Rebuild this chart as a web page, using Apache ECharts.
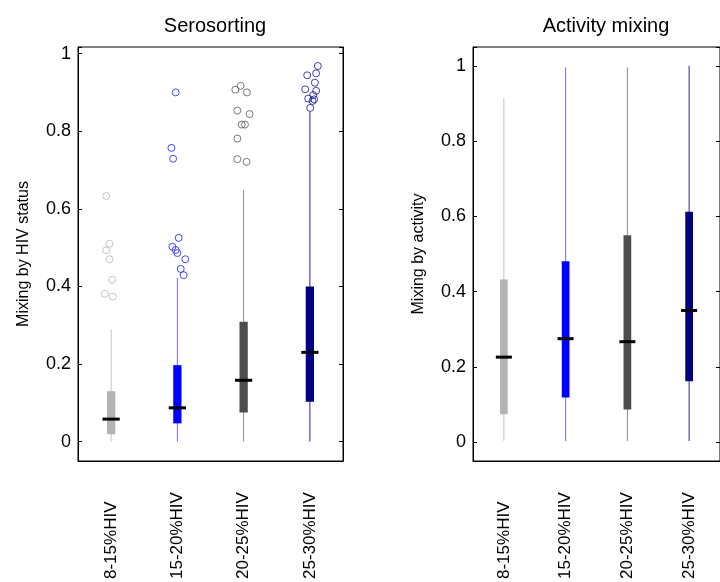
<!DOCTYPE html>
<html>
<head>
<meta charset="utf-8">
<script src="https://cdn.jsdelivr.net/npm/echarts@6/dist/echarts.min.js"></script>
<style>
  html, body { margin: 0; padding: 0; background: #fff; }
  #chart { width: 720px; height: 582px; }
</style>
</head>
<body>
<div id="chart"></div>
<script>
// Prevalence groups shown on both panels
const categories = ['8-15%HIV', '15-20%HIV', '20-25%HIV', '25-30%HIV'];

// Box statistics per group: [whisker low, Q1, median, Q3, whisker high]
const seroStats = [
  [0, 0.019, 0.058, 0.130, 0.289],
  [0, 0.047, 0.087, 0.197, 0.422],
  [0, 0.075, 0.158, 0.309, 0.649],
  [0, 0.103, 0.230, 0.400, 0.850]
];
const activityStats = [
  [0.003, 0.074, 0.226, 0.432, 0.914],
  [0.003, 0.119, 0.275, 0.481, 0.996],
  [0.003, 0.087, 0.267, 0.550, 0.996],
  [0.003, 0.162, 0.350, 0.612, 1.000]
];

// Serosorting outliers per group: [horizontal jitter (category units), value]
const seroOutliers1 = [[-0.075, 0.633], [-0.025, 0.510], [-0.075, 0.493], [-0.025, 0.470],
  [0.015, 0.417], [-0.095, 0.381], [0.025, 0.374]];
const seroOutliers2 = [[-0.025, 0.900], [-0.09, 0.757], [-0.065, 0.729], [0.02, 0.525],
  [-0.075, 0.502], [-0.025, 0.494], [0, 0.486], [0.12, 0.470], [0.05, 0.445], [0.095, 0.429]];
const seroOutliers3 = [[-0.125, 0.907], [-0.045, 0.917], [0.05, 0.900], [-0.095, 0.853],
  [0.09, 0.844], [-0.03, 0.817], [0.02, 0.817], [-0.095, 0.781], [-0.095, 0.728], [0.045, 0.721]];
const seroOutliers4 = [[0.12, 0.968], [-0.04, 0.944], [0.095, 0.949], [0.075, 0.925],
  [-0.07, 0.908], [0.095, 0.904], [0.05, 0.893], [-0.025, 0.884], [0.065, 0.882],
  [0.04, 0.878], [0.005, 0.860]];
const seroOutliers = [seroOutliers1, seroOutliers2, seroOutliers3, seroOutliers4];

// Colours per group
const boxColors = ['#b3b3b3', '#0000ff', '#4d4d4d', '#000080'];
const whiskerColors = ['#c4c4c4', '#6b6bff', '#8a8a8a', '#2b2b95'];
const outlierColors = ['#b8b8b8', '#1a1aff', '#5a5a5a', '#10109a'];

const FONT = '"Liberation Sans", Arial, Helvetica, sans-serif';

function boxRender(params, api) {
  const i = params.dataIndex;
  const x = api.value(0);
  const lo = api.coord([x, api.value(1)]);
  const q1 = api.coord([x, api.value(2)]);
  const med = api.coord([x, api.value(3)]);
  const q3 = api.coord([x, api.value(4)]);
  const hi = api.coord([x, api.value(5)]);
  const band = api.size([1, 0])[0];
  const bw = band * 0.125;
  const mw = band * 0.26;
  return {
    type: 'group',
    children: [
      { type: 'line', shape: { x1: lo[0], y1: lo[1], x2: hi[0], y2: hi[1] },
        style: { stroke: whiskerColors[i], lineWidth: 1 } },
      { type: 'rect', shape: { x: q3[0] - bw / 2, y: q3[1], width: bw, height: q1[1] - q3[1] },
        style: { fill: boxColors[i] } },
      { type: 'line', shape: { x1: med[0] - mw / 2, y1: med[1], x2: med[0] + mw / 2, y2: med[1] },
        style: { stroke: '#000', lineWidth: 3 } }
    ]
  };
}

function tickLabel(v) {
  const k = v / 0.2;
  if (Math.abs(k - Math.round(k)) > 1e-6) return '';
  return String(+v.toFixed(1));
}

function catAxis(gridIndex) {
  return {
    gridIndex, type: 'category', data: categories, boundaryGap: true,
    axisLine: { onZero: false, lineStyle: { color: '#000', width: 1 } },
    axisTick: { show: false },
    axisLabel: {
      rotate: 90, align: 'left', verticalAlign: 'middle', margin: 118,
      fontSize: 17, color: '#000', fontFamily: FONT, interval: 0
    }
  };
}
function jitterAxis(gridIndex) {
  return { gridIndex, type: 'value', min: -0.5, max: 3.5, show: false,
    axisLine: { show: false, onZero: false } };
}
function valAxis(gridIndex, max, name) {
  return {
    gridIndex, type: 'value', min: -0.05, max, position: 'left',
    name, nameLocation: 'middle', nameGap: 46,
    nameTextStyle: { fontSize: 16, color: '#000', fontFamily: FONT },
    axisLine: { show: true, onZero: false, lineStyle: { color: '#000', width: 1 } },
    axisTick: { show: true, inside: true, length: 4, lineStyle: { color: '#000' } },
    axisLabel: { formatter: tickLabel, fontSize: 18, color: '#000', fontFamily: FONT, margin: 7 },
    splitLine: { show: false }
  };
}
function mirrorAxis(gridIndex, max) {
  return {
    gridIndex, type: 'value', min: -0.05, max, position: 'right',
    axisLine: { show: true, onZero: false, lineStyle: { color: '#000', width: 1 } },
    axisTick: { show: true, inside: true, length: 4, lineStyle: { color: '#000' } },
    axisLabel: { show: false },
    splitLine: { show: false }
  };
}

const outlierData = [];
seroOutliers.forEach((pts, i) => {
  pts.forEach(p => outlierData.push({
    value: [i + p[0], p[1]],
    itemStyle: { borderColor: outlierColors[i] }
  }));
});

const chart = echarts.init(document.getElementById('chart'), null, { renderer: 'canvas' });
chart.setOption({
  animation: false,
  backgroundColor: '#fff',
  title: [
    { text: 'Serosorting', left: 210, top: 11, textAlign: 'center',
      textStyle: { fontSize: 20, fontWeight: 'normal', color: '#000', fontFamily: FONT } },
    { text: 'Activity mixing', left: 601, top: 11, textAlign: 'center',
      textStyle: { fontSize: 20, fontWeight: 'normal', color: '#000', fontFamily: FONT } }
  ],
  grid: [
    { left: 78, top: 47, width: 265, height: 415, show: true, borderColor: '#000', borderWidth: 1, backgroundColor: 'transparent' },
    { left: 473, top: 47, width: 256, height: 415, show: true, borderColor: '#000', borderWidth: 1, backgroundColor: 'transparent' }
  ],
  xAxis: [catAxis(0), jitterAxis(0), catAxis(1), jitterAxis(1)],
  yAxis: [
    valAxis(0, 1.017, 'Mixing by HIV status'), mirrorAxis(0, 1.017),
    valAxis(1, 1.05, 'Mixing by activity'), mirrorAxis(1, 1.05)
  ],
  series: [
    {
      type: 'custom', xAxisIndex: 0, yAxisIndex: 0,
      data: seroStats.map((s, i) => [i].concat(s)),
      encode: { x: 0, y: [1, 2, 3, 4, 5] },
      renderItem: boxRender
    },
    {
      type: 'scatter', xAxisIndex: 1, yAxisIndex: 0,
      symbol: 'circle', symbolSize: 7,
      itemStyle: { color: 'rgba(0,0,0,0)', borderWidth: 1 },
      data: outlierData
    },
    {
      type: 'custom', xAxisIndex: 2, yAxisIndex: 2,
      data: activityStats.map((s, i) => [i].concat(s)),
      encode: { x: 0, y: [1, 2, 3, 4, 5] },
      renderItem: boxRender
    }
  ]
});
</script>
</body>
</html>
